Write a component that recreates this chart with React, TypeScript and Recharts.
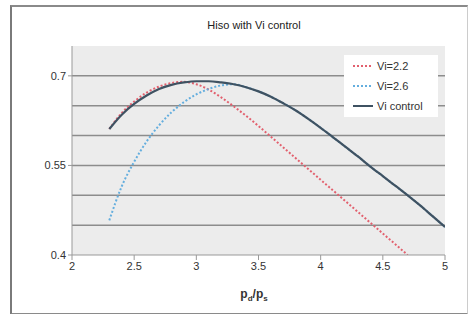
import { LineChart, Line, XAxis, YAxis, CartesianGrid, ReferenceLine } from 'recharts';

const pressureRatio = [2.3, 2.4, 2.5, 2.6, 2.7, 2.8, 2.9, 3.0, 3.1, 3.2, 3.3, 3.4, 3.5, 3.6, 3.7, 3.8, 3.9, 4.0, 4.1, 4.2, 4.3, 4.4, 4.5, 4.6, 4.7, 4.8, 4.9, 5.0];

const vi22 = [0.611, 0.638, 0.657, 0.672, 0.682, 0.688, 0.69, 0.686, 0.677, 0.664, 0.649, 0.633, 0.616, 0.598, 0.58, 0.562, 0.544, 0.526, 0.508, 0.49, 0.472, 0.454, 0.436, 0.418, 0.4];
const vi26 = [0.458, 0.515, 0.556, 0.59, 0.617, 0.639, 0.656, 0.669, 0.678, 0.684, 0.686, 0.681, 0.674, 0.665, 0.654, 0.642, 0.628, 0.613, 0.597, 0.581, 0.565, 0.548, 0.532, 0.516, 0.5, 0.483, 0.465, 0.447];
const viControl = [0.611, 0.635, 0.653, 0.667, 0.678, 0.685, 0.689, 0.691, 0.691, 0.689, 0.686, 0.681, 0.674, 0.665, 0.654, 0.642, 0.628, 0.613, 0.597, 0.581, 0.565, 0.548, 0.532, 0.516, 0.5, 0.483, 0.465, 0.447];

const xTicks = [2, 2.5, 3, 3.5, 4, 4.5, 5];
const yTicks = [0.4, 0.55, 0.7];
const gridLevels = [0.45, 0.5, 0.55, 0.6, 0.65, 0.7];

const SERIES = [
  { key: 'vi22', name: 'Vi=2.2', color: '#e2606e', dash: '2 2' },
  { key: 'vi26', name: 'Vi=2.6', color: '#64aede', dash: '2 2' },
  { key: 'ctrl', name: 'Vi control', color: '#3f5262', dash: undefined },
];

const data = pressureRatio.map((x, i) => ({
  x,
  vi22: vi22[i] ?? null,
  vi26: vi26[i],
  ctrl: viControl[i],
}));

const FONT = '"Liberation Sans", Arial, sans-serif';
const TICK = { fill: '#333', fontSize: 11, fontFamily: FONT };

function LegendBox() {
  return (
    <div style={{ position: 'absolute', left: 344, top: 55, width: 94, padding: '1px 0', background: '#fff', fontFamily: FONT, fontSize: 11, color: '#333' }}>
      {SERIES.map((s) => (
        <div key={s.key} style={{ display: 'flex', alignItems: 'center', height: 20 }}>
          <svg width={32} height={10}>
            <line x1={9} y1={5} x2={29} y2={5} stroke={s.color} strokeWidth={2} strokeDasharray={s.dash} />
          </svg>
          <span style={{ marginLeft: 1 }}>{s.name}</span>
        </div>
      ))}
    </div>
  );
}

export default function App() {
  return (
    <div style={{ position: 'absolute', left: 0, top: 0, width: 474, height: 314, background: '#fff' }}>
      <div style={{ position: 'absolute', left: 10, top: 5, width: 455, height: 306, borderTop: '2px solid #8a8a8a', borderLeft: '2px solid #7a7a7a', borderBottom: '2px solid #8a8a8a', borderRight: '1px solid #ccc' }} />
      <div style={{ position: 'absolute', left: 0, top: 19, width: 508, textAlign: 'center', fontFamily: FONT, fontSize: 11, color: '#222' }}>
        Hiso with Vi control
      </div>
      <LineChart width={474} height={314} data={data} margin={{ top: 46, right: 29, left: 32, bottom: 29 }} style={{ position: 'absolute', left: 0, top: 0 }}>
        <CartesianGrid fill="#ececec" stroke="#d8d8d8" horizontal={false} vertical={false} />
        {gridLevels.map((v) => (
          <ReferenceLine key={v} y={v} stroke="#8c8c8c" strokeWidth={1.5} />
        ))}
        <XAxis
          dataKey="x"
          type="number"
          domain={[2, 5]}
          ticks={xTicks}
          tick={TICK}
          stroke="#999"
          tickSize={5}
          height={30}
          allowDataOverflow
        />
        <YAxis
          type="number"
          domain={[0.4, 0.75]}
          ticks={yTicks}
          tick={TICK}
          stroke="#999"
          tickSize={4}
          width={40}
          allowDataOverflow
        />
        {SERIES.map((s) => (
          <Line
            key={s.key}
            dataKey={s.key}
            name={s.name}
            type="monotone"
            stroke={s.color}
            strokeWidth={s.dash ? 2 : 2.2}
            strokeDasharray={s.dash}
            dot={false}
            connectNulls={false}
            isAnimationActive={false}
          />
        ))}
      </LineChart>
      <LegendBox />
      <div style={{ position: 'absolute', left: 0, top: 287, width: 508, textAlign: 'center', fontFamily: FONT, fontSize: 12, fontWeight: 'bold', color: '#333' }}>
        p<sub style={{ fontSize: 8 }}>d</sub>/p<sub style={{ fontSize: 8 }}>s</sub>
      </div>
    </div>
  );
}
